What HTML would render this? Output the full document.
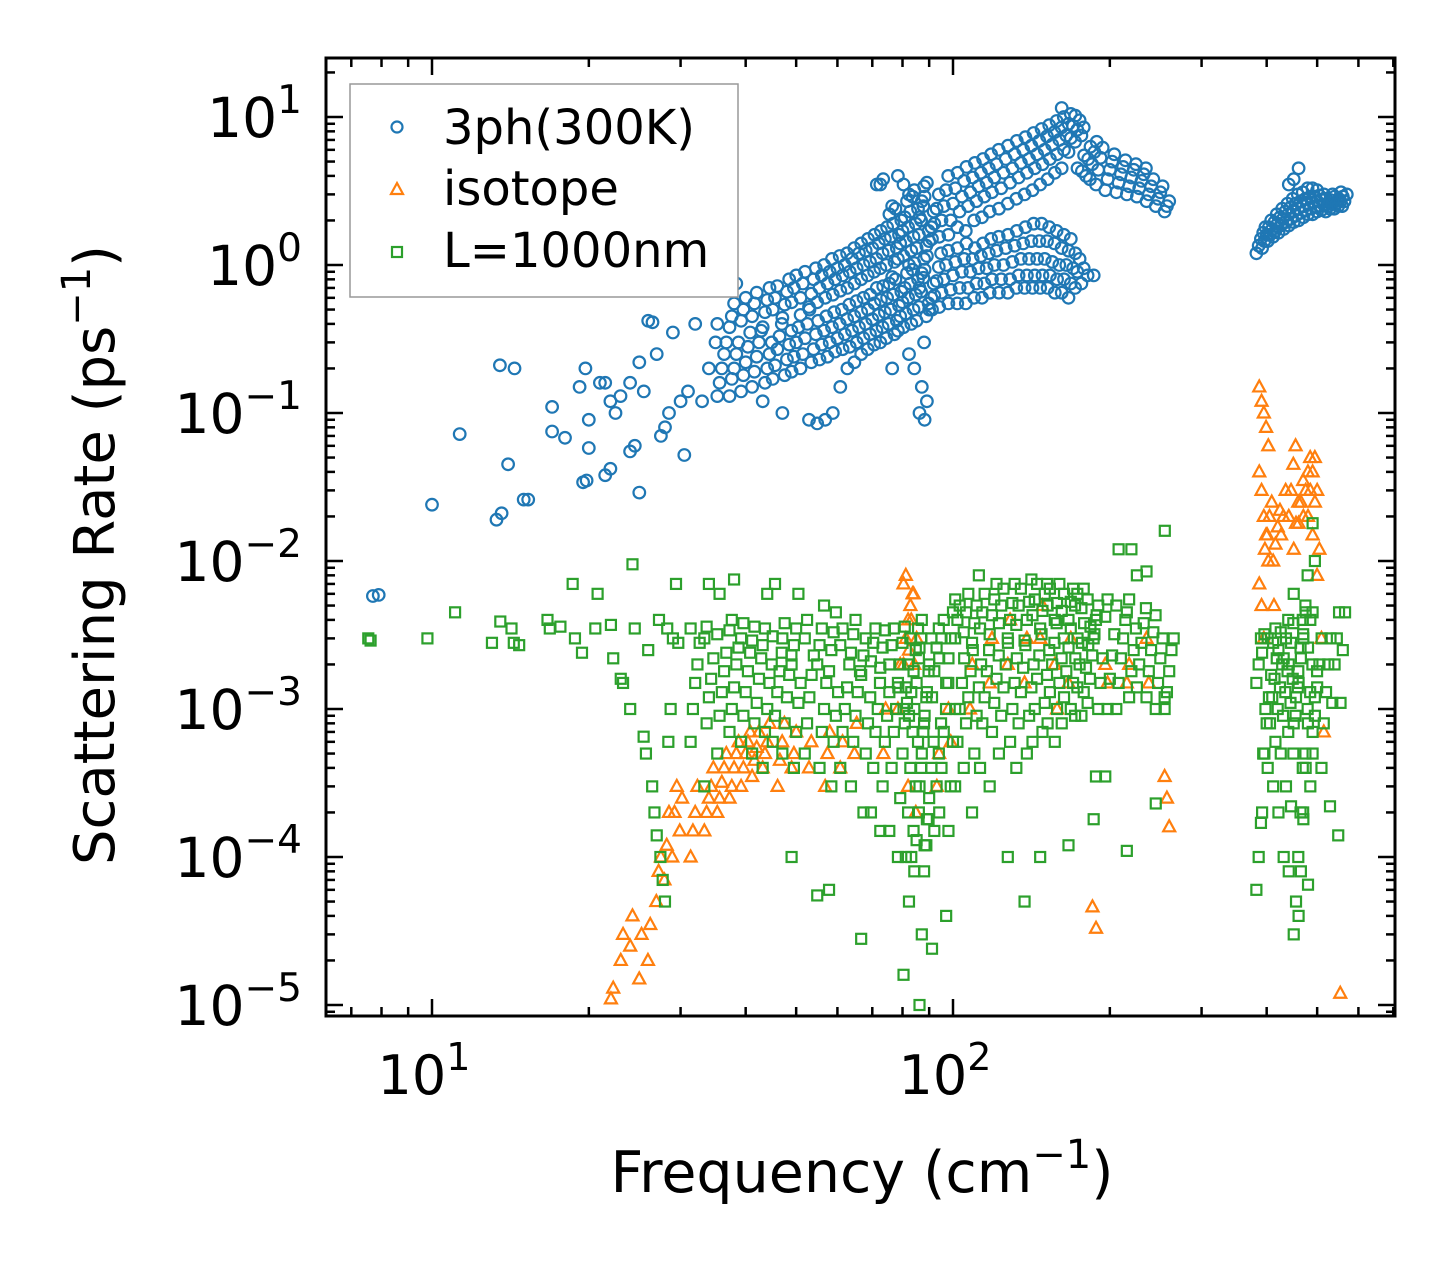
<!DOCTYPE html>
<html><head><meta charset="utf-8"><style>
html,body{margin:0;padding:0;background:#fff;}
svg{display:block;font-family:"DejaVu Sans","Liberation Sans",sans-serif;}
</style></head><body>
<svg id="chart" width="1455" height="1265" viewBox="0 0 1455 1265" xmlns="http://www.w3.org/2000/svg">
<rect width="1455" height="1265" fill="#fff"/>
<g id="marks"></g>
<g id="axes"></g>
<text x="862" y="1192" font-size="57" text-anchor="middle">Frequency (cm<tspan dy="-24" font-size="40">−1</tspan><tspan dy="24">)</tspan></text>
<text transform="translate(114,555) rotate(-90)" font-size="56" text-anchor="middle">Scattering Rate (ps<tspan dy="-24" font-size="40">−1</tspan><tspan dy="24">)</tspan></text>
<g>
<rect x="350" y="84" width="388" height="213" fill="#fff" stroke="#999" stroke-width="1.5"/>
<circle cx="397" cy="127" r="5.5" fill="none" stroke="#1f77b4" stroke-width="2.2"/>
<text x="443" y="144" font-size="48">3ph(300K)</text>
<path d="M397,183 L403,194 L391,194 Z" fill="none" stroke="#ff7f0e" stroke-width="2.2"/>
<text x="443" y="205" font-size="48">isotope</text>
<rect x="392" y="247" width="10" height="10" fill="none" stroke="#2ca02c" stroke-width="2.2"/>
<text x="443" y="267" font-size="48">L=1000nm</text>
</g>
</svg>
<script>
// ---- data: frequency groups (cm^-1) and scattering rates (ps^-1) ----
const freq3ph=[7.7,7.9,10,11.3,13.3,13.6,13.5,14,14.4,15,15.3,17,17,18,19.2,19.5,19.7,19.8,20,20,21,21.5,21.5,22,22,22.5,23,24,24,24.5,25,25,25.5,26,26.5,27,27.5,28,28.5,29,30,30.5,31,32,33,34,35];
const rate3ph=[0.0058,0.0059,0.024,0.072,0.019,0.021,0.21,0.045,0.2,0.026,0.026,0.11,0.075,0.068,0.15,0.034,0.2,0.035,0.058,0.09,0.16,0.038,0.16,0.042,0.12,0.1,0.13,0.055,0.16,0.06,0.029,0.22,0.14,0.42,0.41,0.25,0.07,0.08,0.1,0.35,0.12,0.052,0.14,0.4,0.12,0.2,0.3];
const cloudFreq3ph=[36,38,40,42,44,46,48,50,52,54,56,58,60,62,64,66,68,70,72,74,76,78,80,82,84,86,88,90,93,96,100,104,108,112,116,120,125,130,135,140,145,150,155,160,165,170,175,180,185,190,200,210,220,230,240,250,260,390,400,410,420,430,440,450,460,470,480,490,500,510,520,530,540,550,560,570];
const cloudRate3ph=[[.13,.16,.2,.25,.3,.4],[.13,.17,.2,.25,.3,.38,.45,.55,.75],[.14,.18,.22,.28,.35,.42,.5,.6],[.15,.19,.24,.3,.36,.45,.55,.65],[.12,.16,.2,.25,.3,.38,.48,.58,.7],[.17,.21,.27,.33,.4,.5,.6,.72],[.1,.18,.23,.29,.36,.44,.54,.66,.8],[.19,.24,.3,.38,.46,.56,.7,.85],[.2,.25,.32,.4,.5,.6,.75,.9],[.09,.22,.27,.34,.42,.52,.64,.8,.95],[.085,.23,.29,.36,.45,.56,.7,.85,1.0],[.09,.24,.3,.38,.48,.6,.75,.9,1.1],[.1,.26,.32,.4,.5,.63,.8,.95,1.15],[.15,.27,.34,.43,.54,.67,.85,1.0,1.2],[.2,.28,.36,.45,.57,.7,.9,1.1,1.3],[.22,.3,.38,.48,.6,.75,.95,1.2,1.4],[.25,.32,.4,.5,.63,.8,1.0,1.25,1.5],[.27,.34,.43,.55,.7,.85,1.05,1.3,1.6,3.5],[.29,.36,.46,.58,.72,.9,1.1,1.4,1.7,3.8],[.3,.38,.48,.6,.75,.95,1.2,1.5,1.8,2.2,3.5],[.32,.4,.5,.63,.8,1.0,1.25,1.55,1.9,2.4],[.2,.34,.42,.53,.66,.83,1.05,1.3,1.6,2.0,2.5],[.36,.45,.56,.7,.88,1.1,1.4,1.7,2.1,2.7,4],[.38,.47,.6,.75,.93,1.15,1.45,1.8,2.3,2.9,3.5],[.25,.4,.5,.63,.8,1.0,1.25,1.55,1.9,2.4,3.0],[.2,.42,.52,.66,.82,1.03,1.3,1.6,2.0,2.5,3.2],[.1,.15,.3,.45,.55,.7,.88,1.1,1.35,1.7,2.1,2.7,3.4],[.09,.12,.5,.6,.75,.93,1.15,1.45,1.8,2.3,2.9,3.6],[.5,.62,.78,.97,1.2,1.5,1.9,2.4,3.0],[.52,.65,.8,1.0,1.25,1.55,2.0,2.5,3.2,4],[.55,.68,.85,1.05,1.3,1.6,2.0,2.6,3.3,4.2],[.55,.7,.9,1.1,1.4,1.8,2.3,2.9,3.7,4.6],[.55,.7,.9,1.1,1.3,1.7,2.5,3.1,3.9,4.9],[.6,.75,.95,1.15,1.4,2.0,2.7,3.4,4.2,5.2],[.6,.75,.95,1.2,1.5,2.1,2.9,3.6,4.5,5.6],[.65,.8,1.0,1.25,1.55,2.3,3.1,3.9,4.8,6],[.65,.8,1.0,1.3,1.6,2.4,3.3,4.2,5.2,6.4],[.65,.8,1.05,1.35,1.7,2.6,3.6,4.5,5.6,6.9],[.7,.85,1.1,1.4,1.8,2.8,3.9,4.9,6.0,7.3],[.7,.85,1.1,1.45,1.9,3.0,4.2,5.2,6.4,7.8],[.7,.85,1.1,1.45,1.9,3.2,4.5,5.6,6.9,8.3],[.7,.85,1.1,1.45,1.8,3.5,4.8,6.0,7.4,8.8],[.7,.85,1.05,1.4,1.7,3.8,5.2,6.5,7.9,9.4],[.65,.8,1.0,1.3,1.6,4.2,5.6,7.0,8.5,10],[.65,.8,1.0,1.25,1.5,4.5,6,7.5,9,10.5,11.5],[.6,.75,.95,1.2,4.5,5.8,7.2,8.7,10.2],[.7,.9,1.1,4.3,5.5,6.8,8.2,9.5],[.75,.95,4,5.2,6.3,7.5,8.5],[.85,3.8,4.8,5.8,6.8],[.85,3.5,4.4,5.3,6.2],[3.2,3.8,4.4,5,5.6],[3.1,3.6,4.1,4.6,5.1],[3.0,3.4,3.9,4.4,4.8],[2.9,3.3,3.7,4.1,4.5],[2.7,3.0,3.4,3.8],[2.5,2.8,3.1,3.4],[2.3,2.5,2.7],[1.2,1.35,1.5,1.65,1.8],[1.3,1.45,1.6,1.8,2.0],[1.45,1.6,1.75,1.95,2.2],[1.55,1.7,1.9,2.1,2.4],[1.65,1.85,2.05,2.3,2.6],[1.75,1.95,2.2,2.45,2.8],[1.85,2.05,2.3,2.6,3.0,3.5],[1.95,2.15,2.4,2.7,3.1,3.8],[2.0,2.25,2.5,2.8,3.3,4.5],[2.1,2.35,2.6,2.9,3.3],[2.2,2.4,2.65,2.9,3.2],[2.2,2.45,2.7,2.95],[2.3,2.5,2.75,3.0],[2.35,2.55,2.8],[2.3,2.5,2.75,3.0],[2.4,2.6,2.9],[2.4,2.6,2.8,3.1],[2.5,2.7,2.9],[2.5,2.7,3.0]];
const freqIso=[22.5,23.5,24.5,25.5,26.5,27.5,28.5,29.5,30.5,32,34,36,38,40,42,44,47,50,54,58,62,66,75,80,82,84,86,95,100,110,120,130,140,150,160,170,189,192,200,220,240,260,395,405,420,435,450,460,470,480,490,500,510,520,565];
const rateIso=[[1.1e-5,1.3e-5],[2e-5,3e-5],[2.5e-5,4e-5],[1.5e-5,3e-5],[2e-5,3.5e-5],[5e-5,8e-5,1e-4],[7e-5,1.2e-4,2e-4],[1e-4,2e-4,3e-4],[1.5e-4,2.5e-4],[1e-4,1.5e-4,2e-4,3e-4],[1.5e-4,2e-4,2.5e-4,3e-4,4e-4],[2e-4,2.5e-4,3.2e-4,4e-4,5e-4],[2.5e-4,3e-4,4e-4,5e-4,6e-4],[3e-4,4e-4,5e-4,6e-4,7e-4],[3.5e-4,4.5e-4,5.5e-4,7e-4],[4e-4,5e-4,6e-4,8e-4],[3e-4,4.5e-4,6e-4,8e-4],[4e-4,5e-4,7e-4],[4e-4,6e-4],[3e-4,5e-4,7e-4],[4e-4,6e-4],[5e-4,8e-4],[5e-4,1e-3],[1e-3,2e-3],[2e-3,3e-3,4e-3,5e-3,6e-3,7e-3,8e-3,3e-4],[2.5e-3,4e-3,6e-3,2e-4],[2e-3,3e-3],[3e-4,5e-4],[1e-3,6e-4],[1e-3,2e-3],[1.5e-3,3e-3],[2e-3,4e-3],[1.5e-3,3e-3],[3e-3,5e-3],[2e-3,1e-3],[1.5e-3,3e-3],[4.6e-5],[3.3e-5],[2e-3,1.5e-3],[1.5e-3,2e-3],[3e-3,1.5e-3],[3.5e-4,2.5e-4,1.6e-4],[0.15,0.12,0.1,0.08,0.06,0.04,0.03,0.02,0.015,0.01,7e-3,5e-3,3e-3],[0.012,0.015,0.02,0.025,5e-3],[0.01,0.013,0.017,0.022],[0.015,0.02,0.03],[0.02,0.03,0.045,0.06],[0.012,0.018,0.025],[0.018,0.025,0.035],[0.02,0.03,0.04,0.05],[0.02,0.03,0.04,0.05],[0.015,0.025,0.03],[0.008,0.012],[3e-3,7e-4],[1.2e-5]];
const freqBnd=[7.7,10,11.3,13.3,13.8,14.5,15,17,18,19,19.8,21,22.5,23.5,24.5,26,27,28,29,30,32,34,36,38,40,42,44,46,48,50,53,56,59,62,65,68,71,74,77,80,82,84,86,88,90,93,96,99,103,107,111,115,120,125,130,135,140,145,150,155,160,165,170,175,180,185,190,200,210,220,230,240,250,260,390,400,410,420,430,440,450,460,470,480,490,500,520,540,560];
const rateBnd=[[3e-3,2.9e-3],[3e-3],[4.5e-3],[2.8e-3],[3.9e-3],[3.5e-3,2.8e-3],[2.7e-3],[4e-3,3.5e-3],[3.6e-3],[7e-3,3e-3],[2.4e-3],[3.5e-3,6e-3],[3.7e-3,2.2e-3],[1.6e-3,1.5e-3],[1e-3,9.5e-3,3.5e-3],[6.5e-4,5e-4,2.5e-3],[3e-4,2e-4,1.4e-4,4e-3],[1e-4,7e-5,5e-5,3.5e-3],[6e-4,1e-3,3e-3],[7e-3,2.8e-3],[6e-4,1e-3,1.5e-3,2e-3,2.8e-3,3.5e-3],[3e-4,8e-4,1.2e-3,1.6e-3,2.2e-3,3e-3,3.6e-3,7e-3],[5e-4,9e-4,1.3e-3,1.8e-3,2.4e-3,3.2e-3,6e-3],[7e-4,1e-3,1.4e-3,2e-3,2.6e-3,3.4e-3,4e-3,7.5e-3],[6e-4,9e-4,1.3e-3,1.8e-3,2.4e-3,3e-3,3.8e-3],[5e-4,8e-4,1.1e-3,1.6e-3,2.2e-3,2.9e-3,3.6e-3],[4e-4,7e-4,1e-3,1.5e-3,2e-3,2.7e-3,3.5e-3,6e-3],[6e-4,9e-4,1.3e-3,1.8e-3,2.4e-3,3.1e-3,7e-3],[5e-4,8e-4,1.2e-3,1.7e-3,2.3e-3,3e-3,3.8e-3],[1e-4,4e-4,7e-4,1.1e-3,1.5e-3,2e-3,2.7e-3,3.5e-3,6e-3],[5e-4,8e-4,1.2e-3,1.7e-3,2.3e-3,3e-3,4e-3],[5.5e-5,4e-4,7e-4,1e-3,1.5e-3,2e-3,2.7e-3,3.5e-3,5e-3],[6e-5,3e-4,6e-4,9e-4,1.3e-3,1.8e-3,2.5e-3,3.3e-3,4.5e-3],[4e-4,7e-4,1e-3,1.4e-3,2e-3,2.7e-3,3.5e-3],[3e-4,6e-4,9e-4,1.3e-3,1.8e-3,2.4e-3,3.2e-3,4e-3],[2.8e-5,2e-4,5e-4,8e-4,1.2e-3,1.7e-3,2.3e-3,3e-3],[2e-4,4e-4,7e-4,1e-3,1.5e-3,2.1e-3,2.8e-3,3.5e-3],[1.5e-4,3e-4,6e-4,9e-4,1.3e-3,1.9e-3,2.6e-3,3.4e-3],[1.5e-4,4e-4,7e-4,1e-3,1.4e-3,2e-3,2.7e-3,3.5e-3],[1e-4,2.5e-4,5e-4,8e-4,1.1e-3,1.5e-3,2e-3,2.8e-3,3.6e-3],[1.6e-5,1e-4,2e-4,4e-4,7e-4,1e-3,1.4e-3,2e-3,3e-3],[5e-5,1e-4,1.5e-4,3e-4,6e-4,9e-4,1.3e-3,1.8e-3,2.5e-3,3.5e-3],[8e-5,1.3e-4,2e-4,4e-4,7e-4,1e-3,1.5e-3,2.2e-3,3e-3],[1e-5,3e-5,8e-5,1.2e-4,1.8e-4,3e-4,5e-4,8e-4,1.2e-3,1.8e-3,2.6e-3,4e-3],[1.2e-4,1.8e-4,2.5e-4,4e-4,6e-4,9e-4,1.3e-3,2e-3,3e-3],[2.4e-5,1.5e-4,3e-4,5e-4,8e-4,1.2e-3,1.8e-3,2.6e-3,3.5e-3],[2e-4,4e-4,7e-4,1e-3,1.5e-3,2.2e-3,3e-3,4e-3],[4e-5,1.5e-4,3e-4,6e-4,1e-3,1.5e-3,2.2e-3,3e-3,4.5e-3,5.5e-3],[3e-4,6e-4,1e-3,1.5e-3,2.2e-3,3e-3,4e-3,5e-3],[4e-4,8e-4,1.2e-3,1.8e-3,2.5e-3,3.3e-3,4.5e-3,6e-3],[2e-4,5e-4,9e-4,1.4e-3,2e-3,2.8e-3,3.8e-3,5e-3,8e-3],[4e-4,8e-4,1.2e-3,1.8e-3,2.5e-3,3.5e-3,4.5e-3,6e-3],[3e-4,7e-4,1.1e-3,1.6e-3,2.3e-3,3.2e-3,4.3e-3,5.5e-3,7e-3],[5e-4,9e-4,1.4e-3,2e-3,2.8e-3,3.8e-3,5e-3,6.5e-3],[1e-4,6e-4,1e-3,1.5e-3,2.2e-3,3e-3,4e-3,5.2e-3,7e-3],[4e-4,8e-4,1.3e-3,1.9e-3,2.7e-3,3.7e-3,5e-3,6.5e-3],[5e-5,5e-4,9e-4,1.4e-3,2e-3,2.9e-3,4e-3,5.3e-3,7.5e-3],[6e-4,1e-3,1.6e-3,2.3e-3,3.2e-3,4.3e-3,5.5e-3,7e-3],[1e-4,7e-4,1.1e-3,1.7e-3,2.5e-3,3.5e-3,4.6e-3,6e-3,7e-3],[8e-4,1.3e-3,2e-3,2.8e-3,3.8e-3,5e-3,6.5e-3],[6e-4,1e-3,1.5e-3,2.2e-3,3e-3,4e-3,5.2e-3,7e-3],[8e-4,1.2e-3,1.8e-3,2.6e-3,3.5e-3,4.6e-3,6e-3],[1.2e-4,1e-3,1.5e-3,2.2e-3,3e-3,4e-3,5.3e-3,6.5e-3],[9e-4,1.4e-3,2e-3,2.8e-3,3.8e-3,5e-3,6e-3],[9e-4,1.3e-3,1.9e-3,2.7e-3,3.6e-3,4.8e-3,6.5e-3],[1.1e-3,1.6e-3,2.3e-3,3.2e-3,4.3e-3,5.5e-3],[1.8e-4,3.5e-4,1e-3,1.5e-3,2.2e-3,3e-3,4e-3,5e-3],[3.5e-4,1e-3,1.6e-3,2.3e-3,3.2e-3,4.2e-3,5.5e-3],[1e-3,1.5e-3,2.2e-3,3e-3,4e-3,5e-3,1.2e-2],[1.1e-4,1.2e-3,1.8e-3,2.5e-3,3.5e-3,4.5e-3,5.5e-3,1.2e-2],[1.4e-3,2e-3,2.8e-3,3.8e-3,4.8e-3,8e-3],[1.2e-3,1.8e-3,2.5e-3,3.3e-3,4.3e-3,8.5e-3],[1e-3,1.5e-3,2.2e-3,3e-3,1.6e-2,2.3e-4],[1e-3,1.3e-3,1.8e-3,2.5e-3,3e-3,1.2e-3],[6e-5,1e-4,1.7e-4,5e-4,1e-3,1.5e-3,2e-3,3e-3],[2e-4,5e-4,8e-4,1.2e-3,1.7e-3,2.4e-3,3.2e-3],[4e-4,8e-4,1.2e-3,1.6e-3,2.2e-3,3e-3],[3e-4,6e-4,1e-3,1.4e-3,2e-3,2.8e-3,3.5e-3],[2e-4,5e-4,9e-4,1.3e-3,1.8e-3,2.5e-3,3.3e-3],[1e-4,3e-4,7e-4,1.1e-3,1.6e-3,2.2e-3,3e-3,4e-3],[8e-5,2.2e-4,5e-4,9e-4,1.4e-3,2e-3,2.8e-3,3.8e-3],[3e-5,5e-5,1e-4,2e-4,4e-4,8e-4,1.2e-3,1.8e-3,2.6e-3,4e-3,6e-3],[4e-5,8e-5,2e-4,5e-4,1e-3,1.5e-3,2.2e-3,3.2e-3,5e-3,8e-3],[1.8e-4,4e-4,8e-4,1.3e-3,2e-3,3e-3,4.5e-3],[6.5e-5,3e-4,7e-4,1.2e-3,1.8e-3,2.6e-3,4e-3,1.8e-2],[5e-4,9e-4,1.4e-3,2e-3,3e-3,4.5e-3,1e-2],[4e-4,8e-4,1.3e-3,2e-3,3e-3],[2.2e-4,1.1e-3,2e-3,3e-3,4.5e-3],[1.4e-4,1.1e-3,2.5e-3,4.5e-3]];
const xTickExps=[1,2];
const yTickExps=[1,0,-1,-2,-3,-4,-5];

// ---- axis functions ----
const L=326,R=1395,T=58,B=1016;
const X0=432,XD=521, Y0=117, YD=148;
function xs(f){return X0+(Math.log10(f)-1)*XD;}
function ys(v){return Y0+(1-Math.log10(v))*YD;}
const NS='http://www.w3.org/2000/svg';
const marks=document.getElementById('marks');
const axes=document.getElementById('axes');
function mk(tag,attrs,parent){const e=document.createElementNS(NS,tag);for(const k in attrs)e.setAttribute(k,attrs[k]);parent.appendChild(e);return e;}

const gB=mk('g',{},marks);


const gI=mk('g',{},marks);


const gG=mk('g',{},marks);



function circ(f,v){const e=mk('circle',{cx:xs(f).toFixed(1),cy:ys(v).toFixed(1),r:5.8,fill:'none',stroke:'#1f77b4','stroke-width':2.2},gB);

}
function tri(f,v){const x=xs(f),y=ys(v);const e=mk('path',{d:`M${x},${y-6.5} L${x+6},${y+4.5} L${x-6},${y+4.5} Z`,fill:'none',stroke:'#ff7f0e','stroke-width':2.2},gI);

}
function sq(f,v){const x=xs(f),y=ys(v);const e=mk('rect',{x:x-5,y:y-5,width:10,height:10,fill:'none',stroke:'#2ca02c','stroke-width':2.2},gG);

}
function jit(j){return 1+0.01*(j%5-2);}

freq3ph.forEach((f,i)=>circ(f,rate3ph[i]));
cloudFreq3ph.forEach((f,i)=>cloudRate3ph[i].forEach((v,j)=>circ(f*jit(j),v)));
freqIso.forEach((f,i)=>rateIso[i].forEach((v,j)=>tri(f*jit(j),v)));
freqBnd.forEach((f,i)=>rateBnd[i].forEach((v,j)=>sq(f*jit(j),v)));

// ---- axes frame and ticks ----
const fr=mk('rect',{x:L,y:T,width:R-L,height:B-T,fill:'none',stroke:'#000','stroke-width':3},axes);


const xmin=Math.pow(10,1-(X0-L)/XD), xmax=Math.pow(10,1+(R-X0)/XD);
for(let d=0;d<=2;d++){for(let m=1;m<=9;m++){const f=m*Math.pow(10,d);if(f<xmin||f>xmax)continue;const x=xs(f);const len=m===1?17:9;
mk('line',{x1:x,y1:B,x2:x,y2:B-len,stroke:'#000','stroke-width':2.5},axes);
mk('line',{x1:x,y1:T,x2:x,y2:T+len,stroke:'#000','stroke-width':2.5},axes);}}
for(let d=-6;d<=1;d++){for(let m=1;m<=9;m++){const v=m*Math.pow(10,d);const y=ys(v);if(y<T||y>B)continue;const len=m===1?17:9;
mk('line',{x1:L,y1:y,x2:L+len,y2:y,stroke:'#000','stroke-width':2.5},axes);
mk('line',{x1:R,y1:y,x2:R-len,y2:y,stroke:'#000','stroke-width':2.5},axes);}}
xTickExps.forEach(e=>{const t=mk('text',{x:xs(Math.pow(10,e))-8,y:1094,'font-size':54,'text-anchor':'middle'},axes);


t.innerHTML=`10<tspan dy="-24" font-size="38">${e}</tspan>`;});
yTickExps.forEach(e=>{const t=mk('text',{x:302,y:ys(Math.pow(10,e))+20,'font-size':55,'text-anchor':'end'},axes);


t.innerHTML=`10<tspan dy="-24" font-size="39">${e<0?'−'+(-e):e}</tspan>`;});
</script>
</body></html>
